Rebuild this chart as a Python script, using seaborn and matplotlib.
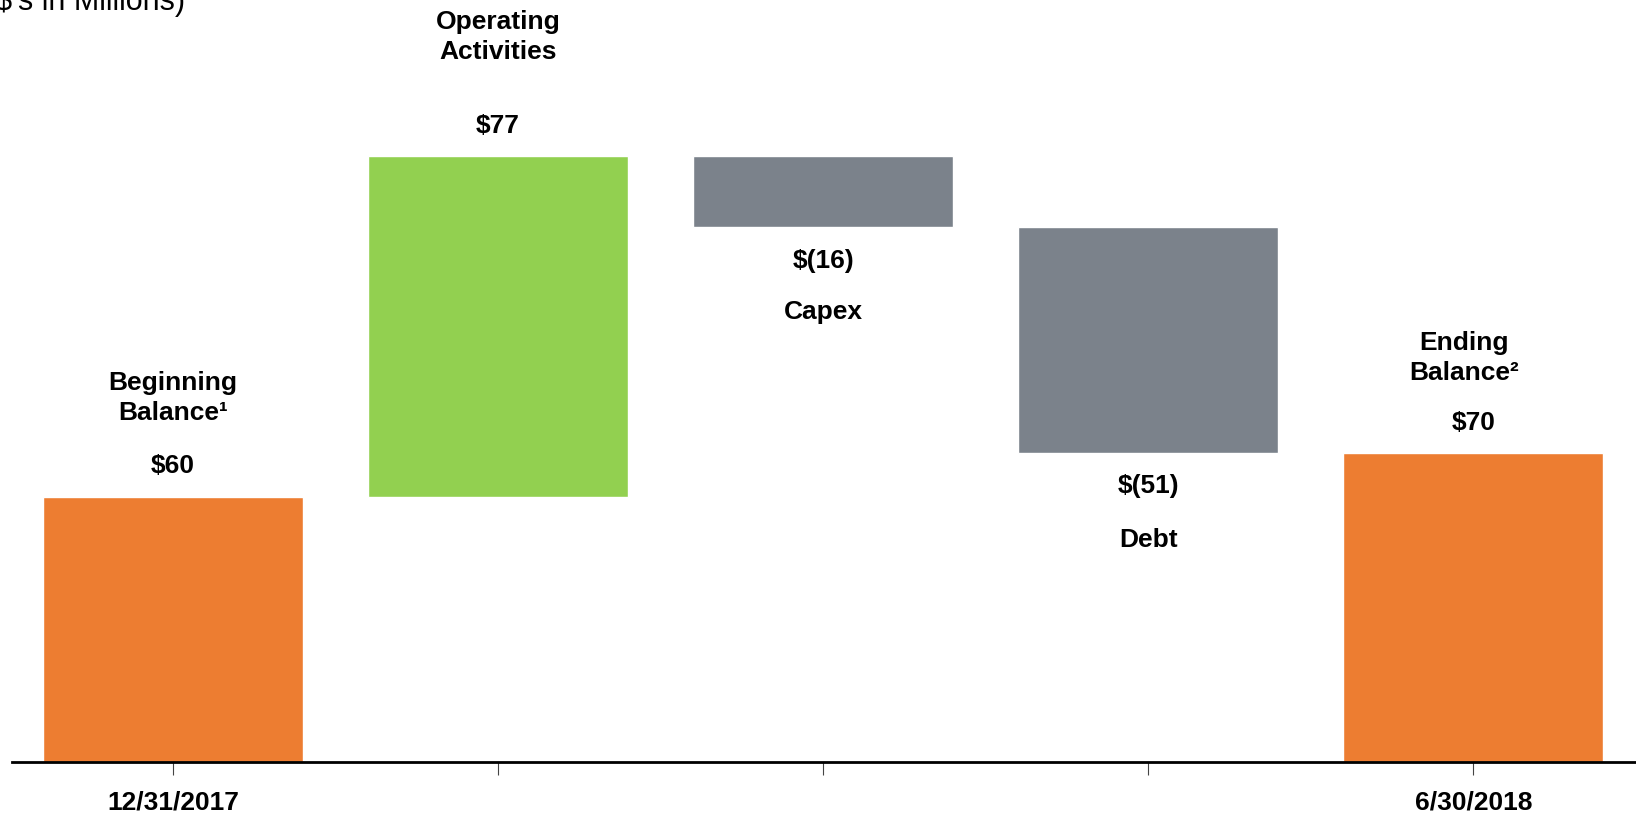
import matplotlib
matplotlib.use("Agg")
import matplotlib.pyplot as plt
import seaborn as sns

# data
steps = ["Beginning\nBalance\u00b9", "Operating\nActivities", "Capex", "Debt", "Ending\nBalance\u00b2"]
changes = [60, 77, -16, -51, 70]
value_labels = ["$60", "$77", "$(16)", "$(51)", "$70"]
tick_labels = ["12/31/2017", "", "", "", "6/30/2018"]
colors = ["#ED7D31", "#92D050", "#7B828B", "#7B828B", "#ED7D31"]

# floating bars: totals start at 0, changes start at running total
bottoms, heights = [], []
running = 0
for i, v in enumerate(changes):
    if i == 0 or i == len(changes) - 1:
        bottoms.append(0)
        heights.append(v)
        running = v
    else:
        end = running + v
        bottoms.append(min(running, end))
        heights.append(abs(v))
        running = end

sns.set_style("white")
plt.rcParams["font.family"] = ["Liberation Sans", "DejaVu Sans"]
plt.rcParams["text.color"] = "black"
plt.rcParams["xtick.color"] = "black"

fig = plt.figure(figsize=(16.36, 8.15), dpi=100)
ax = fig.add_axes([12 / 1636, 53 / 815, 1 - 12 / 1636, 762 / 815])

sns.barplot(x=list(range(len(steps))), y=heights, hue=list(range(len(steps))),
            palette=colors, legend=False, width=0.8, saturation=1, ax=ax)
for patch, b in zip(ax.patches, bottoms):
    patch.set_y(b)

ax.set_xlim(-0.495, 4.5)
ax.set_ylim(0, 172.4)

# annotations (offsets in points)
name_off = [71, 86, -61, -63, 68]
val_off = [22, 22, -24, -24, 21]
for i, v in enumerate(changes):
    top = bottoms[i] + heights[i]
    if v >= 0 or i in (0, len(changes) - 1):
        anchor = top
    else:
        anchor = bottoms[i]
    ax.annotate(value_labels[i], (i, anchor), xytext=(0, val_off[i]), textcoords="offset points",
                ha="center", va="center", fontsize=19, fontweight="bold")
    ax.annotate(steps[i], (i, anchor), xytext=(-7 if i == 4 else 0, name_off[i]),
                textcoords="offset points", ha="center", va="center",
                fontsize=19, fontweight="bold", linespacing=1.3)

ax.set_xticks(range(len(steps)))
ax.set_xticklabels(tick_labels, fontsize=19, fontweight="bold")
ax.tick_params(axis="x", direction="out", length=9.5, width=0.8, color="#444444", pad=11, bottom=True)
ax.set_yticks([])
ax.set_xlabel("")
ax.set_ylabel("")
for s in ["top", "right", "left"]:
    ax.spines[s].set_visible(False)
ax.spines["bottom"].set_color("black")
ax.spines["bottom"].set_linewidth(2)

fig.text(185 / 1636, 1 - 10 / 815, "($'s in Millions)", ha="right", va="baseline", fontsize=22)

fig.savefig("out.png", dpi=100)
